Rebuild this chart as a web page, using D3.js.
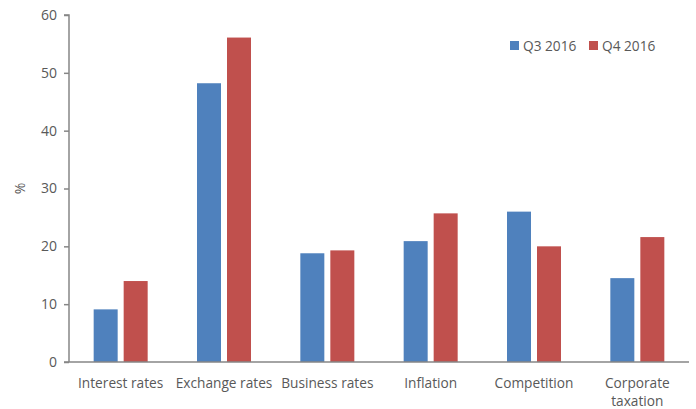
<!DOCTYPE html>
<html><head><meta charset="utf-8">
<script src="https://cdn.jsdelivr.net/npm/d3@7"></script>
<style>body{margin:0;background:#fff}svg{display:block}text{font-family:"Open Sans","Liberation Sans",sans-serif;fill:#595959}</style>
</head><body><div id="chart"></div>
<script>
const categories = ["Interest rates","Exchange rates","Business rates","Inflation","Competition","Corporate taxation"];
const seriesNames = ["Q3 2016","Q4 2016"];
const q3Values = [9.1, 48.2, 18.8, 20.9, 26.0, 14.5];
const q4Values = [14.0, 56.1, 19.3, 25.7, 20.0, 21.6];
const yTicks = [0,10,20,30,40,50,60];
const colors = ["#4F81BD","#C0504D"];

const W=696,H=409;
const m={left:69,right:7,top:15,bottom:47};
const svg=d3.select("#chart").append("svg").attr("width",W).attr("height",H);
const x=d3.scaleBand().domain(categories).range([m.left,W-m.right]).paddingInner(0).paddingOuter(0);
const y=d3.scaleLinear().domain([0,60]).range([H-m.bottom,m.top]);
const bw=24, gap=6;
const data=[q3Values,q4Values];

data.forEach((vals,si)=>{
  svg.append("g").selectAll("rect").data(categories).join("rect")
    .attr("x",c=>x(c)+x.bandwidth()/2-(bw+gap/2)+si*(bw+gap))
    .attr("y",(c,i)=>y(vals[i]))
    .attr("width",bw)
    .attr("height",(c,i)=>y(0)-y(vals[i]))
    .attr("fill",colors[si]);
});

// y axis
const ya=svg.append("g").attr("transform",`translate(${m.left},0)`)
  .call(d3.axisLeft(y).tickValues(yTicks).tickSize(5).tickPadding(7));
ya.select(".domain").attr("stroke","#868686").attr("stroke-width",1.5).attr("d",`M-5,${y(60)}H0V${y(0)}`);
ya.selectAll(".tick line").attr("stroke","#868686").attr("stroke-width",1.5);
ya.selectAll(".tick text").style("font-size","14px").attr("fill","#595959");

// x axis
const xa=svg.append("g").attr("transform",`translate(0,${y(0)})`)
  .call(d3.axisBottom(x).tickSize(0).tickPadding(0));
xa.select(".domain").attr("stroke","#868686").attr("stroke-width",1.5).attr("d",`M${m.left-5},0H${W-m.right}`);
xa.selectAll(".tick text").remove();
xa.selectAll(".tick").each(function(c){
  const g=d3.select(this);
  const lines=c==="Corporate taxation"?["Corporate","taxation"]:[c];
  const t=g.append("text").attr("text-anchor","middle").style("font-size","13.7px").attr("fill","#595959");
  lines.forEach((l,i)=>t.append("tspan").attr("x",0).attr("y",26+i*17.5).text(l));
});

// y label
svg.append("text").attr("transform",`translate(25,${(y(0)+y(60))/2}) rotate(-90)`)
  .attr("text-anchor","middle").style("font-size","14px").text("%");

// legend
const lx=[510,589];
seriesNames.forEach((s,i)=>{
  svg.append("rect").attr("x",lx[i]).attr("y",41).attr("width",9).attr("height",9).attr("fill",colors[i]);
  svg.append("text").attr("x",lx[i]+13).attr("y",50.5).style("font-size","13.7px").text(s);
});
</script></body></html>
